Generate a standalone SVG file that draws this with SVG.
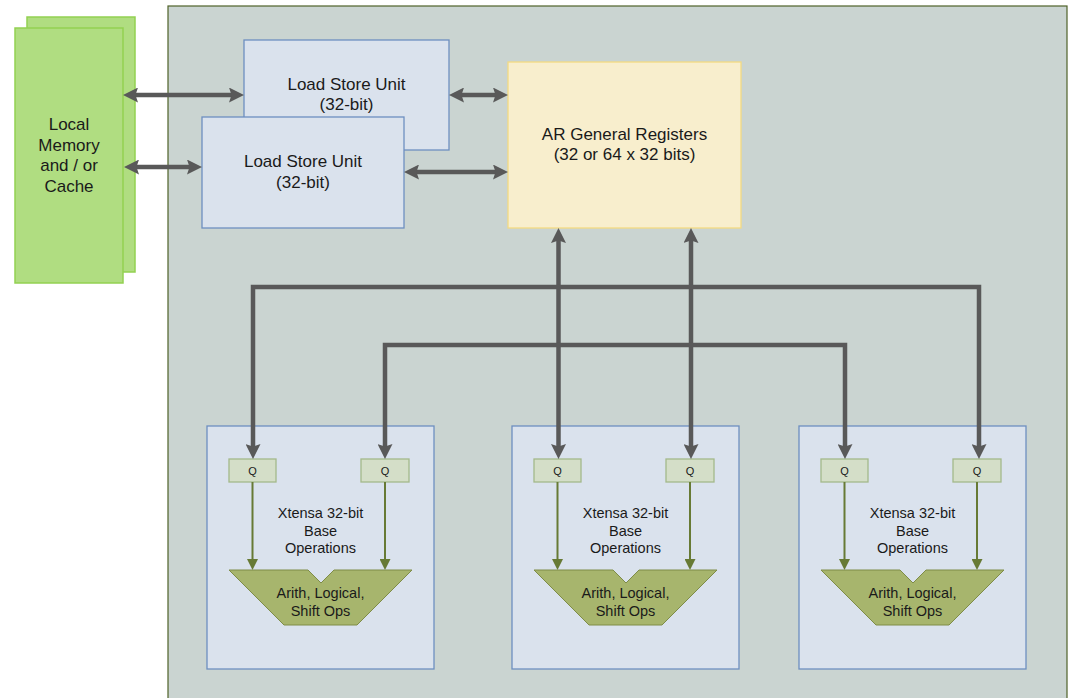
<svg xmlns="http://www.w3.org/2000/svg" width="1070" height="698" viewBox="0 0 1070 698">
  <style>
    text { font-family: "Liberation Sans", Arial, sans-serif; fill: #1a1a1a; text-anchor: middle; }
    .big { font-size: 17px; }
    .mid { font-size: 14.5px; }
    .small { font-size: 11px; }
    .unit { fill: #dae2ed; stroke: #6d8fc0; stroke-width: 1.3; }
    .mem { fill: #b0dd81; stroke: #93d151; stroke-width: 1.5; }
    .q { fill: #d4dec8; stroke: #a4b98a; stroke-width: 1.3; }
    .alu { fill: #a7b56d; stroke: #7e8c47; stroke-width: 1; }
    .bus { fill: none; stroke: #595959; stroke-width: 4.5; stroke-linejoin: miter; }
    .gline { fill: none; stroke: #677a35; stroke-width: 2; }
  </style>
  <defs>
    <marker id="ah" viewBox="0 0 15 15" markerWidth="15" markerHeight="15" refX="6" refY="7.5" orient="auto-start-reverse" markerUnits="userSpaceOnUse">
      <path d="M0,0 L15,7.5 L0,15 L2.5,7.5 z" fill="#595959"/>
    </marker>
    <marker id="gh" viewBox="0 0 11 11" markerWidth="11" markerHeight="11" refX="4" refY="5.5" orient="auto" markerUnits="userSpaceOnUse">
      <path d="M0,0 L11,5.5 L0,11 z" fill="#677a35"/>
    </marker>
  </defs>

  <rect x="0" y="0" width="1070" height="698" fill="#ffffff"/>

  <!-- main core background -->
  <g id="core">
    <rect x="168" y="6" width="899" height="710" fill="#cad4d1" stroke="#4f6228" stroke-width="1.2"/>
  </g>

  <!-- local memory -->
  <g id="local-memory">
    <rect class="mem" x="27" y="17" width="108" height="255"/>
    <rect class="mem" x="15" y="28" width="108" height="255"/>
    <text class="big" x="69" y="130">Local</text>
    <text class="big" x="69" y="151">Memory</text>
    <text class="big" x="69" y="171">and / or</text>
    <text class="big" x="69" y="192">Cache</text>
  </g>

  <!-- load store units -->
  <g id="lsu-1">
    <rect class="unit" x="244" y="40" width="205" height="110"/>
    <text class="big" x="346.5" y="90">Load Store Unit</text>
    <text class="big" x="346.5" y="110">(32-bit)</text>
  </g>
  <g id="lsu-2">
    <rect class="unit" x="202" y="117" width="202" height="111"/>
    <text class="big" x="303" y="167">Load Store Unit</text>
    <text class="big" x="303" y="188">(32-bit)</text>
  </g>

  <!-- AR registers -->
  <g id="ar-registers">
    <rect x="508" y="62" width="233" height="166" fill="#f8eecd" stroke="#f3da82" stroke-width="1.3"/>
    <text class="big" x="624.5" y="140">AR General Registers</text>
    <text class="big" x="624.5" y="160">(32 or 64 x 32 bits)</text>
  </g>

  <!-- processing units -->
  <g id="exec-1">
    <rect class="unit" x="207" y="426" width="227" height="243"/>
    <rect class="q" x="229" y="459" width="47" height="23"/>
    <text class="small" x="252.5" y="474.5">Q</text>
    <rect class="q" x="361" y="459" width="48" height="23"/>
    <text class="small" x="385" y="474.5">Q</text>
    <line class="gline" x1="252.5" y1="482" x2="252.5" y2="563" marker-end="url(#gh)"/>
    <line class="gline" x1="385" y1="482" x2="385" y2="563" marker-end="url(#gh)"/>
    <text class="mid" x="320.5" y="518">Xtensa 32-bit</text>
    <text class="mid" x="320.5" y="535.5">Base</text>
    <text class="mid" x="320.5" y="553">Operations</text>
    <polygon class="alu" points="229,570 308,570 321,583 334,570 412,570 357,625 284,625"/>
    <text class="mid" x="320.5" y="597.5">Arith, Logical,</text>
    <text class="mid" x="320.5" y="615.5">Shift Ops</text>
  </g>

  <g id="exec-2" transform="translate(305,0)">
    <rect class="unit" x="207" y="426" width="227" height="243"/>
    <rect class="q" x="229" y="459" width="47" height="23"/>
    <text class="small" x="252.5" y="474.5">Q</text>
    <rect class="q" x="361" y="459" width="48" height="23"/>
    <text class="small" x="385" y="474.5">Q</text>
    <line class="gline" x1="252.5" y1="482" x2="252.5" y2="563" marker-end="url(#gh)"/>
    <line class="gline" x1="385" y1="482" x2="385" y2="563" marker-end="url(#gh)"/>
    <text class="mid" x="320.5" y="518">Xtensa 32-bit</text>
    <text class="mid" x="320.5" y="535.5">Base</text>
    <text class="mid" x="320.5" y="553">Operations</text>
    <polygon class="alu" points="229,570 308,570 321,583 334,570 412,570 357,625 284,625"/>
    <text class="mid" x="320.5" y="597.5">Arith, Logical,</text>
    <text class="mid" x="320.5" y="615.5">Shift Ops</text>
  </g>

  <g id="exec-3" transform="translate(592,0)">
    <rect class="unit" x="207" y="426" width="227" height="243"/>
    <rect class="q" x="229" y="459" width="47" height="23"/>
    <text class="small" x="252.5" y="474.5">Q</text>
    <rect class="q" x="361" y="459" width="48" height="23"/>
    <text class="small" x="385" y="474.5">Q</text>
    <line class="gline" x1="252.5" y1="482" x2="252.5" y2="563" marker-end="url(#gh)"/>
    <line class="gline" x1="385" y1="482" x2="385" y2="563" marker-end="url(#gh)"/>
    <text class="mid" x="320.5" y="518">Xtensa 32-bit</text>
    <text class="mid" x="320.5" y="535.5">Base</text>
    <text class="mid" x="320.5" y="553">Operations</text>
    <polygon class="alu" points="229,570 308,570 321,583 334,570 412,570 357,625 284,625"/>
    <text class="mid" x="320.5" y="597.5">Arith, Logical,</text>
    <text class="mid" x="320.5" y="615.5">Shift Ops</text>
  </g>

  <!-- connectors -->
  <g id="connectors">
    <line class="bus" x1="132" y1="95" x2="235" y2="95" marker-start="url(#ah)" marker-end="url(#ah)"/>
    <line class="bus" x1="133" y1="167" x2="193" y2="167" marker-start="url(#ah)" marker-end="url(#ah)"/>
    <line class="bus" x1="458" y1="95" x2="499" y2="95" marker-start="url(#ah)" marker-end="url(#ah)"/>
    <line class="bus" x1="413" y1="172" x2="499" y2="172" marker-start="url(#ah)" marker-end="url(#ah)"/>
    <line class="bus" x1="558.5" y1="237" x2="558.5" y2="450" marker-start="url(#ah)" marker-end="url(#ah)"/>
    <line class="bus" x1="691" y1="237" x2="691" y2="450" marker-start="url(#ah)" marker-end="url(#ah)"/>
    <path class="bus" d="M253,450 V287 H979 V450" marker-start="url(#ah)" marker-end="url(#ah)"/>
    <path class="bus" d="M385,450 V345 H845 V450" marker-start="url(#ah)" marker-end="url(#ah)"/>
  </g>
</svg>
